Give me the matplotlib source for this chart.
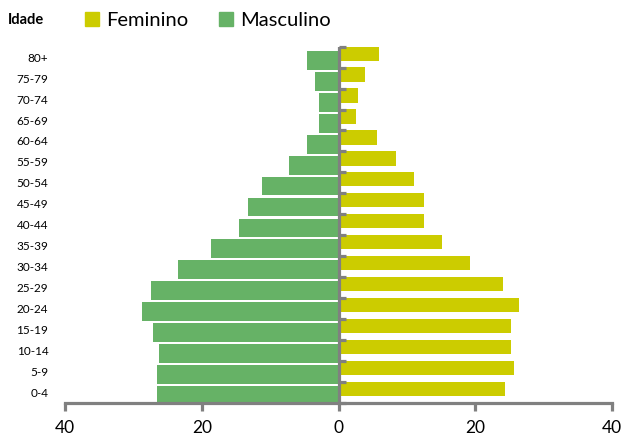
import matplotlib.pyplot as plt
import numpy as np
from matplotlib.patches import Patch
from matplotlib.ticker import FuncFormatter

plt.rcParams['font.family'] = ['Lato', 'DejaVu Sans']

idades = ['0-4', '5-9', '10-14', '15-19', '20-24', '25-29', '30-34', '35-39',
          '40-44', '45-49', '50-54', '55-59', '60-64', '65-69', '70-74', '75-79', '80+']
feminino = [24.4, 25.6, 25.2, 25.2, 26.4, 24.1, 19.2, 15.1, 12.5, 12.5,
            11.1, 8.4, 5.6, 2.6, 2.9, 3.8, 5.9]
masculino = [26.6, 26.6, 26.3, 27.2, 28.7, 27.5, 23.5, 18.6, 14.5, 13.3,
             11.2, 7.3, 4.6, 2.8, 2.8, 3.4, 4.6]

cor_f = '#cccc00'
cor_m = '#66b266'
cinza = '#808080'

fig = plt.figure(figsize=(6.21, 4.41), dpi=100)
ax = fig.add_axes([0.1047, 0.0862, 0.881, 0.808])

y = np.arange(len(idades))
ax.barh(y - 0.15, -np.array(masculino), height=0.9, color=cor_m, zorder=2)
ax.barh(y + 0.17, feminino, height=0.68, color=cor_f, zorder=2)

# eixo central com marcas entre as faixas
ax.axvline(0, color=cinza, lw=2.3, zorder=3)
ax.plot(np.zeros(len(idades) + 1), np.arange(len(idades) + 1) - 0.5, ls='none',
        marker=1, color=cinza, ms=5, mew=2.3, zorder=3, clip_on=False)

ax.set_xlim(-40, 40)
ax.set_ylim(-0.5, len(idades) - 0.5)
ax.set_xticks([-40, -20, 0, 20, 40])
ax.xaxis.set_major_formatter(FuncFormatter(lambda v, p: '%d' % abs(v)))
ax.tick_params(axis='x', length=6, width=2.3, color=cinza, labelsize=12.5, pad=6)
ax.set_yticks(y)
ax.set_yticklabels(idades)
ax.tick_params(axis='y', length=0, labelsize=8.5, pad=12)

for s in ['top', 'right', 'left']:
    ax.spines[s].set_visible(False)
ax.spines['bottom'].set_color(cinza)
ax.spines['bottom'].set_linewidth(2.3)
ax.spines['bottom'].set_zorder(4)

fig.text(0.013, 0.955, 'Idade', fontsize=10.5, fontweight='bold', va='center')
fig.legend(handles=[Patch(color=cor_f, label='Feminino'),
                    Patch(color=cor_m, label='Masculino')],
           loc='center left', bbox_to_anchor=(0.137, 0.953), ncol=2, frameon=False,
           fontsize=14.5, handlelength=0.7, handleheight=0.7, handletextpad=0.35,
           columnspacing=1.5, borderaxespad=0, borderpad=0)

plt.savefig('out.png', dpi=100)
